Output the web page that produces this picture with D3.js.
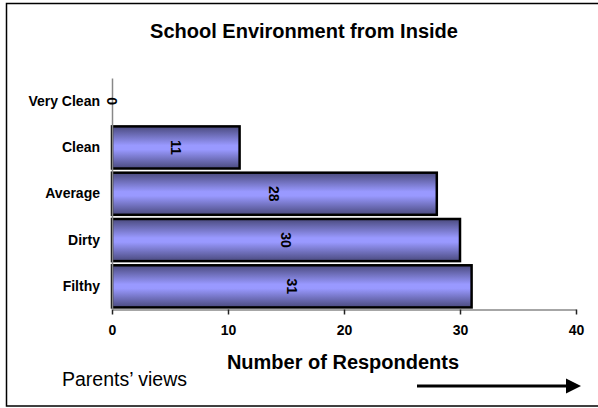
<!DOCTYPE html>
<html><head><meta charset="utf-8">
<script src="https://cdn.jsdelivr.net/npm/d3@7"></script>
<style>body{margin:0;background:#fff}svg{display:block}text{font-family:"Liberation Sans",Arial,sans-serif}</style>
</head><body>
<script>
const categories = ["Very Clean","Clean","Average","Dirty","Filthy"];
const values = [0,11,28,30,31];
const tickValues = [0,10,20,30,40];
const title = "School Environment from Inside";
const xTitle = "Number of Respondents";
const note = "Parents\u2019 views";

const W=598,H=408;
const svg=d3.select("body").append("svg").attr("width",W).attr("height",H);
const defs=svg.append("defs");
const g=defs.append("linearGradient").attr("id","bg").attr("x1",0).attr("y1",0).attr("x2",0).attr("y2",1);
g.append("stop").attr("offset","0%").attr("stop-color","#4a4a7e");
g.append("stop").attr("offset","45%").attr("stop-color","#9999ff");
g.append("stop").attr("offset","55%").attr("stop-color","#9999ff");
g.append("stop").attr("offset","100%").attr("stop-color","#4a4a7e");

svg.append("rect").attr("x",6.5).attr("y",3.5).attr("width",600).attr("height",402.5)
  .attr("fill","none").attr("stroke","#000").attr("stroke-width",1.5);

const x=d3.scaleLinear().domain([0,40]).range([112,576]);
const y=d3.scaleBand().domain(categories).range([78,309.5]).paddingInner(0.09).paddingOuter(0.045);

svg.append("text").attr("x",304).attr("y",38).attr("text-anchor","middle")
  .attr("font-weight","bold").attr("font-size",20).text(title);

// bars
svg.selectAll("rect.bar").data(values).join("rect").attr("class","bar")
  .attr("x",x(0)).attr("y",(d,i)=>y(categories[i]))
  .attr("width",d=>x(d)-x(0)).attr("height",y.bandwidth())
  .attr("fill","url(#bg)").attr("stroke","#000").attr("stroke-width",2.5)
  .attr("display",d=>d>0?null:"none");

// x axis
const xa=svg.append("g").attr("transform","translate(0,309.5)")
  .call(d3.axisBottom(x).tickValues(tickValues).tickSize(5).tickSizeOuter(0).tickFormat(d3.format("d")));
xa.select(".domain").attr("stroke","#888").attr("stroke-width",1.5);
xa.selectAll(".tick line").attr("stroke","#222").attr("stroke-width",1.5);
xa.selectAll(".tick text").attr("font-size",14).attr("font-weight","bold")
  .attr("font-family","Liberation Sans, Arial, sans-serif").attr("fill","#000")
  .attr("dy",null).attr("y",25.5);

// y axis
const ya=svg.append("g").attr("transform","translate(112,0)")
  .call(d3.axisLeft(y).tickSize(0).tickPadding(12));
ya.select(".domain").attr("stroke","#888").attr("stroke-width",1.5);
ya.selectAll(".tick text").attr("font-size",14).attr("font-weight","bold")
  .attr("font-family","Liberation Sans, Arial, sans-serif").attr("fill","#000");

// value labels
svg.selectAll("text.val").data(values).join("text").attr("class","val")
  .attr("transform",(d,i)=>`translate(${(x(0)+x(d))/2},${y(categories[i])+y.bandwidth()/2}) rotate(90)`)
  .attr("text-anchor","middle").attr("dy","0.35em").attr("font-size",14).attr("font-weight","bold")
  .text(d=>d);

svg.append("text").attr("x",343).attr("y",369).attr("text-anchor","middle")
  .attr("font-weight","bold").attr("font-size",20).text(xTitle);
svg.append("text").attr("x",62).attr("y",386).attr("font-size",19.5).text(note);

// arrow
svg.append("line").attr("x1",417).attr("x2",568).attr("y1",386).attr("y2",386).attr("stroke","#000").attr("stroke-width",3);
svg.append("path").attr("d","M566,378.5 L581,386 L566,393.5 Z").attr("fill","#000");
</script>
</body></html>
